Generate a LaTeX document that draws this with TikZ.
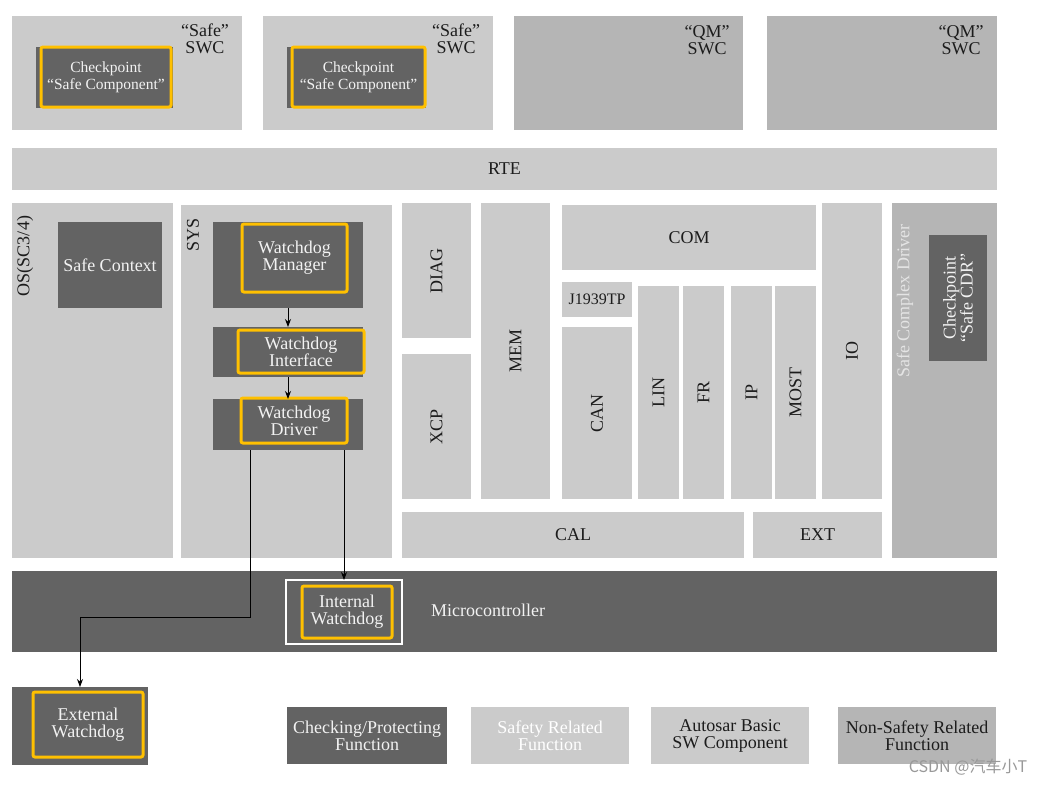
\documentclass[tikz,border=0pt]{standalone}
\usepackage{fontspec}
\setmainfont{Liberation Serif}
\newfontfamily\cjkfont{Noto Sans CJK SC}
\usetikzlibrary{arrows.meta}
\definecolor{lg}{HTML}{CBCBCB}
\definecolor{mg}{HTML}{B5B5B5}
\definecolor{dg}{HTML}{636363}
\definecolor{yel}{HTML}{FFC000}
\definecolor{txtdark}{HTML}{1C1C1C}
\definecolor{txtlight}{HTML}{F2F2F2}
\definecolor{txtpale}{HTML}{E4E4E4}
\newcommand{\bx}[7]{\node[#1, minimum width={#5-#3}, minimum height={#6-#4}] (#2) at (#3,#4) {#7};}
\begin{document}
\begin{tikzpicture}[x=1pt,y=-1pt,
  box/.style={anchor=north west, inner sep=0pt, outer sep=0pt, align=center, font=\fontsize{18}{17}\selectfont},
  light/.style={box, fill=lg, text=txtdark},
  mid/.style={box, fill=mg, text=txtdark},
  dark/.style={box, fill=dg, text=txtlight},
  frame/.style={box, draw=yel, line width=3pt, rounded corners=2pt, text=txtlight},
  wframe/.style={box, draw=white, line width=2pt},
  cpfont/.style={font=\fontsize{15.5}{17}\selectfont},
  lbl/.style={inner sep=0pt, outer sep=0pt, align=center, font=\fontsize{18}{17}\selectfont},
  arr/.style={draw=black, line width=1pt, -{Stealth[length=8pt,width=6pt]}},
]
\useasboundingbox[fill=white] (0,0) rectangle (1041,785);

% top SWCs
\bx{light}{swc1}{12}{16}{242}{130}{}
\bx{light}{swc2}{263}{16}{493}{130}{}
\bx{mid}{swc3}{514}{16}{743}{130}{}
\bx{mid}{swc4}{767}{16}{997}{130}{}
\node[lbl, text=txtdark] (swc1l) at (205,39) {“Safe”\\SWC};
\node[lbl, text=txtdark] (swc2l) at (456,39) {“Safe”\\SWC};
\node[lbl, text=txtdark] (swc3l) at (707,40) {“QM”\\SWC};
\node[lbl, text=txtdark] (swc4l) at (961,40) {“QM”\\SWC};
\bx{dark}{cp1}{36}{47}{173}{108}{}
\bx{frame, cpfont}{cp1f}{41}{47}{171}{107}{Checkpoint\\“Safe Component”}
\bx{dark}{cp2}{287}{47}{426}{108}{}
\bx{frame, cpfont}{cp2f}{292}{47}{425}{107}{Checkpoint\\“Safe Component”}

% RTE
\bx{light}{rte}{12}{148}{997}{190}{RTE}

% OS
\bx{light}{os}{12}{203}{173}{558}{}
\node[lbl, rotate=90, text=txtdark] (oslbl) at (25,256) {OS(SC3/4)};
\bx{dark}{ctx}{58}{222}{162}{308}{Safe Context}

% SYS
\bx{light}{sys}{181}{205}{392}{558}{}
\node[lbl, rotate=90, text=txtdark] (syslbl) at (193,235) {SYS};
\bx{dark}{wdm}{213}{222}{363}{308}{}
\bx{frame}{wdmf}{242}{224}{347}{292}{Watchdog\\Manager}
\bx{dark}{wdi}{213}{327}{363}{377}{}
\bx{frame}{wdif}{238}{330}{364}{373}{Watchdog\\Interface}
\bx{dark}{wdd}{213}{399}{363}{450}{}
\bx{frame}{wddf}{241}{398}{347}{443}{Watchdog\\Driver}

% BSW
\bx{light}{diag}{402}{203}{471}{338}{\rotatebox{90}{DIAG}}
\bx{light}{xcp}{402}{354}{471}{499}{\rotatebox{90}{XCP}}
\bx{light}{mem}{481}{203}{550}{499}{\rotatebox{90}{MEM}}
\bx{light}{com}{562}{205}{816}{270}{COM}
\bx{light, font=\fontsize{16}{16}\selectfont}{j1939}{562}{282}{632}{317}{J1939TP}
\bx{light}{can}{562}{327}{632}{499}{\rotatebox{90}{CAN}}
\bx{light}{lin}{638}{286}{679}{499}{\rotatebox{90}{LIN}}
\bx{light}{fr}{683}{286}{724}{499}{\rotatebox{90}{FR}}
\bx{light}{ip}{731}{286}{772}{499}{\rotatebox{90}{IP}}
\bx{light}{most}{775}{286}{816}{499}{\rotatebox{90}{MOST}}
\bx{light}{io}{822}{203}{882}{499}{\rotatebox{90}{IO}}
\bx{light}{cal}{402}{512}{744}{558}{CAL}
\bx{light}{ext2}{753}{512}{882}{558}{EXT}

% Safe complex driver
\bx{mid}{scd}{892}{203}{997}{558}{}
\node[lbl, rotate=90, text=txtpale] (scdlbl) at (905,301) {Safe Complex Driver};
\bx{dark}{cdr}{929}{235}{987}{361}{}
\node[lbl, rotate=90, text=txtlight] (cdrlbl) at (cdr.center) {Checkpoint\\“Safe CDR”};

% Microcontroller
\bx{dark}{mcu}{12}{571}{997}{652}{}
\node[lbl, text=txtlight] (mculbl) at (488,610) {Microcontroller};
\bx{wframe}{intw}{286}{580}{402}{644}{}
\bx{frame}{intwf}{302}{586}{392}{638}{Internal\\Watchdog}

% External watchdog
\bx{dark}{ext}{12}{687}{148}{765}{}
\bx{frame}{extf}{33}{692}{143}{757}{External\\Watchdog}

% Legend
\bx{dark}{lg1}{287}{707}{447}{764}{Checking/Protecting\\Function}
\bx{light, text=white}{lg2}{471}{707}{629}{764}{Safety Related\\Function}
\bx{light}{lg3}{651}{707}{809}{764}{Autosar Basic\\SW Component}
\bx{mid}{lg4}{838}{707}{996}{764}{Non-Safety Related\\Function}

% connectors
\draw[arr] (wdm.south) -- (wdi.north);
\draw[arr] (wdi.south) -- (wdd.north);
\draw[arr] ([xshift=-38pt]wdd.south) -- ++(0,167) -| (ext.north);
\draw[arr] (wdd.south -| intw.north) -- (intw.north);

% watermark
\node[inner sep=0pt, text=black!40, font=\cjkfont\fontsize{16}{16}\selectfont] (wm) at (968,767) {CSDN @汽车小T};
\end{tikzpicture}
\end{document}
